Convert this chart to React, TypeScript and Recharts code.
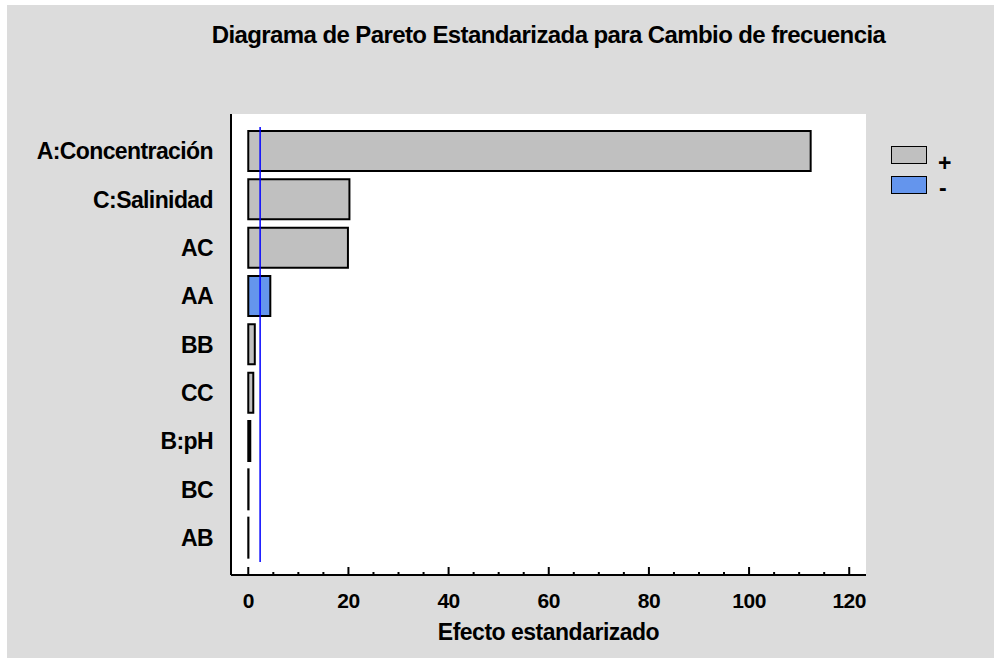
import React from "react";
import {
  BarChart,
  Bar,
  XAxis,
  YAxis,
  CartesianGrid,
  ReferenceLine,
  Cell,
} from "recharts";

// ── Data ──
const factors = ["A:Concentración", "C:Salinidad", "AC", "AA", "BB", "CC", "B:pH", "BC", "AB"];
const effects = [112.3, 20.2, 19.9, 4.4, 1.3, 1.0, 0.4, 0.05, 0.03];
const signs = ["+", "+", "+", "-", "+", "+", "+", "+", "+"];
const xTicks = [0, 5, 10, 15, 20, 25, 30, 35, 40, 45, 50, 55, 60, 65, 70, 75, 80, 85, 90, 95, 100, 105, 110, 115, 120];
const criticalT = 2.365;

const POS_COLOR = "#c0c0c0";
const NEG_COLOR = "#6495ed";
const FONT = '"Liberation Sans", Arial, sans-serif';

const data = factors.map((name, i) => ({ name, effect: effects[i], sign: signs[i] }));

// ── Tick marks (inward) ──
function BottomTick({ x, y, payload }: { x?: number; y?: number; payload?: { value: number } }) {
  const v = payload?.value ?? 0;
  const major = v % 20 === 0;
  const axisY = (y ?? 0) - 19;
  return (
    <g>
      <line x1={x} x2={x} y1={axisY} y2={axisY - (major ? 8 : 3)} stroke="#000" strokeWidth={2} />
      {major && (
        <text
          x={x}
          y={axisY + 33}
          textAnchor="middle"
          fontSize={21}
          letterSpacing={-0.5}
          fontWeight="bold"
          fill="#000"
          fontFamily={FONT}
        >
          {v}
        </text>
      )}
    </g>
  );
}

function TopTick({ x, y, payload }: { x?: number; y?: number; payload?: { value: number } }) {
  const v = payload?.value ?? 0;
  const major = v % 20 === 0;
  return <line x1={x} x2={x} y1={y} y2={(y ?? 0) + (major ? 8 : 3)} stroke="#000" strokeWidth={2} />;
}

function CritLine(p: { x1?: number; x2?: number; y1?: number; y2?: number }) {
  const a = Math.min(p.y1 ?? 0, p.y2 ?? 0) + 13;
  const b = Math.max(p.y1 ?? 0, p.y2 ?? 0) - 13;
  return <line x1={p.x1} x2={p.x2} y1={a} y2={b} stroke="#0000ff" strokeWidth={1.5} />;
}

export default function App() {
  return (
    <div
      style={{
        position: "absolute",
        left: 7,
        top: 5,
        width: 987,
        height: 653,
        background: "#dcdcdc",
        fontFamily: FONT,
        overflow: "hidden",
      }}
    >
      <div
        style={{
          position: "absolute",
          left: 141.5,
          width: 800,
          top: 17.7,
          textAlign: "center",
          fontSize: 24,
          letterSpacing: -0.6,
          lineHeight: 1,
          fontWeight: "bold",
          color: "#000",
          whiteSpace: "nowrap",
        }}
      >
        Diagrama de Pareto Estandarizada para Cambio de frecuencia
      </div>

      <BarChart
        width={987}
        height={653}
        data={data}
        layout="vertical"
        margin={{ top: 109, right: 128, bottom: 18, left: 0 }}
        style={{ position: "absolute", left: 0, top: 0 }}
      >
        <CartesianGrid fill="#ffffff" horizontal={false} vertical={false} />
        <XAxis
          type="number"
          domain={[-3.45, 123.35]}
          allowDataOverflow
          ticks={xTicks}
          interval={0}
          height={65}
          tickSize={0}
          tickMargin={19}
          tick={<BottomTick />}
          axisLine={{ stroke: "#000", strokeWidth: 2 }}
          label={{
            value: "Efecto estandarizado",
            position: "insideBottom",
            offset: 0,
            fill: "#000",
            fontSize: 23,
            letterSpacing: -0.5,
            fontWeight: "bold",
            fontFamily: FONT,
          }}
        />
        <XAxis
          xAxisId="top"
          orientation="top"
          type="number"
          domain={[-3.45, 123.35]}
          allowDataOverflow
          ticks={xTicks}
          interval={0}
          height={0}
          tickSize={0}
          tickMargin={0}
          tick={<TopTick />}
          axisLine={{ stroke: "#000", strokeWidth: 2 }}
        />
        <YAxis
          type="category"
          dataKey="name"
          width={224}
          padding={{ top: 13, bottom: 13 }}
          tickSize={0}
          tickMargin={18}
          interval={0}
          tickLine={false}
          axisLine={{ stroke: "#000", strokeWidth: 2 }}
          tick={{ fill: "#000", fontSize: 23, letterSpacing: -0.6, fontWeight: "bold", fontFamily: FONT }}
        />
        <YAxis
          yAxisId="right"
          orientation="right"
          type="category"
          dataKey="name"
          width={0}
          tick={false}
          tickLine={false}
          axisLine={{ stroke: "#000", strokeWidth: 2 }}
        />
        <Bar dataKey="effect" barSize={40} stroke="#000" strokeWidth={2} isAnimationActive={false}>
          {data.map((d, i) => (
            <Cell key={i} fill={d.sign === "-" ? NEG_COLOR : POS_COLOR} />
          ))}
        </Bar>
        <ReferenceLine x={criticalT} stroke="#0000ff" strokeWidth={1.5} shape={(p: any) => <CritLine {...p} />} />
      </BarChart>

      <div style={{ position: "absolute", left: 884, top: 141, width: 36, height: 18, boxSizing: "border-box", border: "1.5px solid #000", background: POS_COLOR }} />
      <div style={{ position: "absolute", left: 884, top: 171, width: 36, height: 18, boxSizing: "border-box", border: "1.5px solid #000", background: NEG_COLOR }} />
      <span style={{ position: "absolute", left: 931, top: 147, fontSize: 23, lineHeight: "22px", fontWeight: "bold", color: "#000" }}>+</span>
      <span style={{ position: "absolute", left: 932, top: 172, fontSize: 23, lineHeight: "22px", fontWeight: "bold", color: "#000" }}>-</span>
    </div>
  );
}
